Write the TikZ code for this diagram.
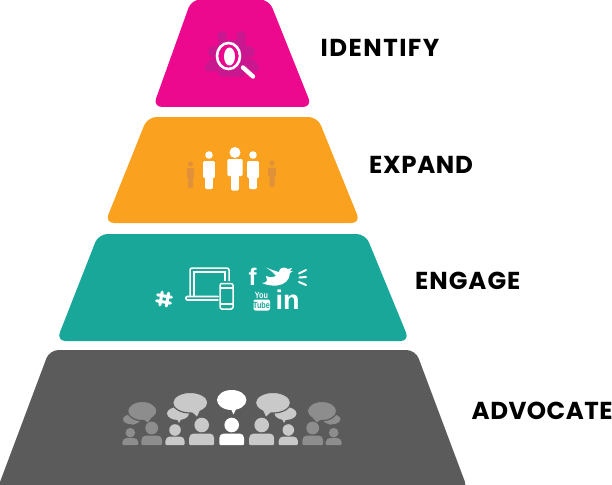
\documentclass[tikz,border=0pt]{standalone}
\usepackage{fontspec}
\setmainfont{Poppins}[BoldFont={Poppins Bold}]
\newfontfamily\iconfont{Liberation Sans}[BoldFont={Liberation Sans Bold}]
\definecolor{cpink}{HTML}{EC098D}
\definecolor{corange}{HTML}{FAA21F}
\definecolor{cteal}{HTML}{19A79A}
\definecolor{cgrey}{HTML}{5A5B5A}
\definecolor{pinkdim}{HTML}{C9188F}
\definecolor{orangedim}{HTML}{E0913A}
\definecolor{gdim}{HTML}{8C8D8C}
\definecolor{gmid}{HTML}{C8C9C8}
\tikzset{
  tier/.style={rounded corners=9pt},
  lab/.style={font=\bfseries\fontsize{24.5}{26}\selectfont, text=black, inner sep=0pt, anchor=west},
  wline/.style={draw=white, line width=1.6pt, line join=round, line cap=round},
  social/.style={text=white, inner sep=0pt, font=\iconfont\bfseries},
}
\newcommand{\crowdman}[6]{%
  \fill[#6] (#1,#2) circle[radius=#3];
  \fill[#6] (#1-#4,445) [rounded corners=1pt] -- (#1+#4,445) [rounded corners=4.5pt] -- (#1+#4,#5) -- (#1-#4,#5) [rounded corners=1pt] -- cycle;
}
\newcommand{\standman}[9]{%
  \fill[#9] (#1,#2) circle[radius=#3];
  \fill[#9,rounded corners=1.2pt] (#1-#4,#5) rectangle (#1+#4,#6);
  \fill[#9,rounded corners=1.2pt] (#1-#7,#6-3) rectangle (#1+#7,#8);
}
\newcommand{\bubble}[8]{%
  \fill[#8] (#1,#2) ellipse[x radius=#3, y radius=#4];
  \fill[#8] (#5-#7,#2+#4-3) -- (#5,#6) -- (#5+#7,#2+#4-3) -- cycle;
}
\begin{document}
\begin{tikzpicture}[x=1pt,y=-1pt]
\useasboundingbox (0,0) rectangle (612,484);
% tiers
\fill[cpink,tier] (191.5,-0.5) -- (269,-0.5) -- (312,107) -- (153,107) -- cycle;
\fill[corange,tier] (147.5,117) -- (317.5,117) -- (360.5,223) -- (105,223) -- cycle;
\fill[cteal,tier] (98.5,234) -- (365.5,234) -- (409.5,341) -- (56.5,341) -- cycle;
\fill[cgrey,tier] (49.5,350) -- (415.5,350) -- (468,490) -- (-3,490) -- cycle;
% labels
\node[lab] (identify) at (320.5,47.5) {\addfontfeature{LetterSpace=6}IDENTIFY};
\node[lab] (expand) at (369,165) {\addfontfeature{LetterSpace=2.7}EXPAND};
\node[lab] (engage) at (415,281) {\addfontfeature{LetterSpace=4}ENGAGE};
\node[lab] (advocate) at (471.5,411) {\addfontfeature{LetterSpace=2}ADVOCATE};
% identify icon
\begin{scope}[pinkdim]
\fill (222,36) circle[radius=5];
\fill (241,36) circle[radius=5];
\fill (214,52) circle[radius=6];
\fill (249,52) circle[radius=6];
\fill[rounded corners=5pt] (203,71.5) -- (209,59) -- (255,59) -- (261,71.5) -- cycle;
\fill[rounded corners=5pt] (218,77) -- (218,60) -- (246,60) -- (246,77) -- cycle;
\fill (218,40) rectangle (246,62);
\end{scope}
\draw[white,line width=2.6pt,fill=cpink] (228.5,56) ellipse[x radius=11.5, y radius=13];
\fill[white] (229.5,56.5) ellipse[x radius=5.5, y radius=9];
\draw[white,line width=4.4pt,line cap=round] (243,67.5) -- (253,76.5);
% expand icon
\standman{190.5}{164}{2.6}{3.6}{168}{178}{2.5}{188}{orangedim}
\standman{272}{163}{2.8}{3.8}{167.5}{177}{2.5}{187}{orangedim}
\standman{209}{155}{3.8}{5.8}{161}{178}{3.9}{189}{white}
\standman{253}{155}{3.8}{5.8}{161}{178}{3.9}{189}{white}
\standman{235}{152.5}{5.5}{7.6}{159}{176}{3.9}{190.5}{white}
% engage icon
\draw[white,line width=1.5pt,rounded corners=2pt] (190,296) -- (190,268) -- (229,268) -- (229,281);
\draw[white,line width=1.2pt] (194,296) -- (194,272) -- (225,272) -- (225,281);
\draw[wline,rounded corners=1pt] (218,300) -- (186,300) -- (186,296.5) -- (218,296.5);
\draw[white,line width=1.5pt,rounded corners=2pt] (220,283.5) rectangle (233,309);
\draw[white,line width=1.1pt] (220,288) -- (233,288) (220,304) -- (233,304);
\begin{scope}[shift={(164,299)},rotate=-10]
\draw[white,line width=3pt,line cap=round] (-3,-6.5) -- (-3,6.5) (3.5,-6.5) -- (3.5,6.5) (-7,-3) -- (7,-3) (-7,3) -- (7,3);
\end{scope}
\node[social,font=\iconfont\bfseries\fontsize{24}{24}\selectfont] (fb) at (252.5,276.5) {f};
\fill[white] (262,283) .. controls (270,282) and (266,279) .. (266,276)
  .. controls (271,278) and (274,277) .. (276,276)
  .. controls (274,273) and (270,270) .. (266,267.5)
  .. controls (272,270) and (278,272) .. (279,272)
  .. controls (279,268) and (284,266) .. (288,269)
  -- (292,268) -- (290,271) -- (293,271) -- (290,273)
  .. controls (290,280) and (284,285) .. (277,285.5)
  .. controls (272,286) and (266,285) .. (262,283) -- cycle;
\draw[white,line width=2pt,line cap=round]
  (299,273.5) -- (306,270) (299.5,277.5) -- (306,277) (299,282) -- (306,285);
\node[social,font=\iconfont\bfseries\fontsize{9}{9}\selectfont,text=white,xscale=.8] (you) at (261.5,295.5) {You};
\fill[white,rounded corners=2pt] (253.5,299.5) rectangle (270,310.5);
\node[social,font=\iconfont\bfseries\fontsize{9}{9}\selectfont,text=cteal,xscale=.8] (tube) at (261.5,305) {Tube};
\node[social,font=\iconfont\bfseries\fontsize{27}{27}\selectfont] (li) at (287.5,300) {in};
% advocate icon
\bubble{131.7}{419.3}{8.7}{5}{133}{425}{3}{gdim}
\draw[cgrey,line width=1.2pt,fill=gdim] (142.3,411) ellipse[x radius=14.7, y radius=9.6];
\fill[gdim] (143,419) -- (148,422.5) -- (151,418) -- cycle;
\bubble{331.7}{419.3}{8.7}{5}{330}{425}{3}{gdim}
\draw[cgrey,line width=1.2pt,fill=gdim] (322,411) ellipse[x radius=14.7, y radius=9.6];
\fill[gdim] (321,419) -- (317,422.5) -- (313,418) -- cycle;
\bubble{178}{413.5}{11}{6.5}{179}{423}{3}{gmid}
\draw[cgrey,line width=1.2pt,fill=gmid] (190.3,402.7) ellipse[x radius=17.6, y radius=10.3];
\fill[gmid] (191,411) -- (197,416.5) -- (200,410) -- cycle;
\bubble{285.5}{413.5}{11}{6.5}{284}{423}{3}{gmid}
\draw[cgrey,line width=1.2pt,fill=gmid] (273,402.7) ellipse[x radius=17.6, y radius=10.3];
\fill[gmid] (272,411) -- (266,416.5) -- (263,410) -- cycle;
\bubble{231.7}{400}{14.7}{10}{233.5}{414.5}{3.5}{white}
% crowd
\crowdman{130.3}{432.7}{4.8}{8}{438}{gdim}
\crowdman{151.7}{428}{6.4}{10.3}{435.5}{gdim}
\crowdman{175}{430}{5.8}{9.6}{436.5}{gmid}
\crowdman{201.7}{425}{7.3}{12.5}{433.5}{gmid}
\crowdman{231.7}{425}{7.3}{12.4}{433.5}{white}
\crowdman{261.7}{425}{7.3}{12.5}{433.5}{gmid}
\crowdman{288.3}{430}{5.8}{9.6}{436.5}{gmid}
\crowdman{312.7}{428}{6.4}{10.3}{435.5}{gdim}
\crowdman{333.7}{432.7}{4.8}{8}{438}{gdim}
\end{tikzpicture}
\end{document}
